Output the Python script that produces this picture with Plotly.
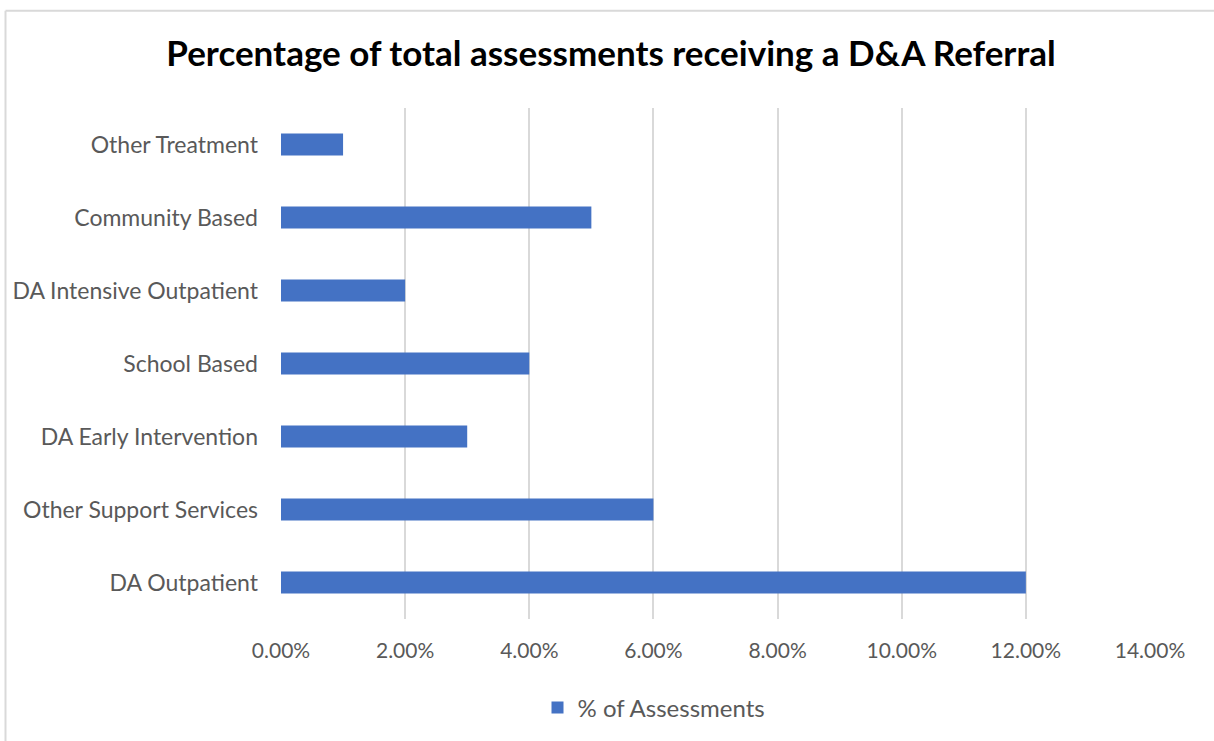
import plotly.graph_objects as go

# Referral categories (bottom to top) and share of assessments (%)
categories = [
    "DA Outpatient",
    "Other Support Services",
    "DA Early Intervention",
    "School Based",
    "DA Intensive Outpatient",
    "Community Based",
    "Other Treatment",
]
pct_of_assessments = [12, 6, 3, 4, 2, 5, 1]
tick_values = [0, 2, 4, 6, 8, 10, 12, 14]
tick_labels = ["0.00%", "2.00%", "4.00%", "6.00%", "8.00%", "10.00%", "12.00%", "14.00%"]

W, H = 1214, 741
L, R, T, B = 281, 64, 108, 121
pw, ph = W - L - R, H - T - B

def px_x(p):
    return (p - L) / pw

def px_y(p):
    return (H - B - p) / ph

FONT = "Lato"
GRAY = "#595959"
GRID = "#D9D9D9"

fig = go.Figure(
    go.Bar(
        x=pct_of_assessments,
        y=categories,
        orientation="h",
        name="% of Assessments",
        marker=dict(color="#4472C4", line=dict(width=0)),
        hoverinfo="x+y",
    )
)

fig.update_layout(
    width=W,
    height=H,
    margin=dict(l=L, r=R, t=T, b=B, pad=0),
    paper_bgcolor="white",
    plot_bgcolor="white",
    bargap=0.7,
    font=dict(family=FONT, color=GRAY, size=21),
    title=dict(
        text="<b>Percentage of total assessments receiving a D&A Referral</b>",
        font=dict(family=FONT, size=35, color="#000000"),
        x=611 / W,
        xanchor="center",
        xref="container",
        y=1 - 54 / H,
        yanchor="middle",
        yref="container",
    ),
    xaxis=dict(
        range=[0, 14],
        tickvals=tick_values,
        ticktext=tick_labels,
        showgrid=True,
        gridcolor=GRID,
        gridwidth=2,
        zeroline=False,
        showline=False,
        ticks="",
        ticklabelstandoff=17,
        tickfont=dict(family=FONT, size=21, color=GRAY),
        fixedrange=True,
    ),
    yaxis=dict(
        categoryorder="array",
        categoryarray=categories,
        showgrid=False,
        zeroline=False,
        showline=False,
        ticks="",
        ticklabelstandoff=22,
        tickfont=dict(family=FONT, size=23, color=GRAY),
        fixedrange=True,
    ),
    showlegend=True,
    legend=dict(
        orientation="h",
        x=px_x(654),
        xanchor="center",
        y=px_y(708),
        yanchor="middle",
        font=dict(family=FONT, size=24, color=GRAY),
        bgcolor="rgba(0,0,0,0)",
    ),
    shapes=[
        # chart frame: top and left edges
        dict(type="line", xref="paper", yref="paper",
             x0=px_x(5.5), x1=px_x(W + 5), y0=px_y(10.5), y1=px_y(10.5),
             line=dict(color=GRID, width=2), layer="below"),
        dict(type="line", xref="paper", yref="paper",
             x0=px_x(5.5), x1=px_x(5.5), y0=px_y(10.5), y1=px_y(H + 5),
             line=dict(color=GRID, width=2), layer="below"),
    ],
)

fig.write_html("out.html")
